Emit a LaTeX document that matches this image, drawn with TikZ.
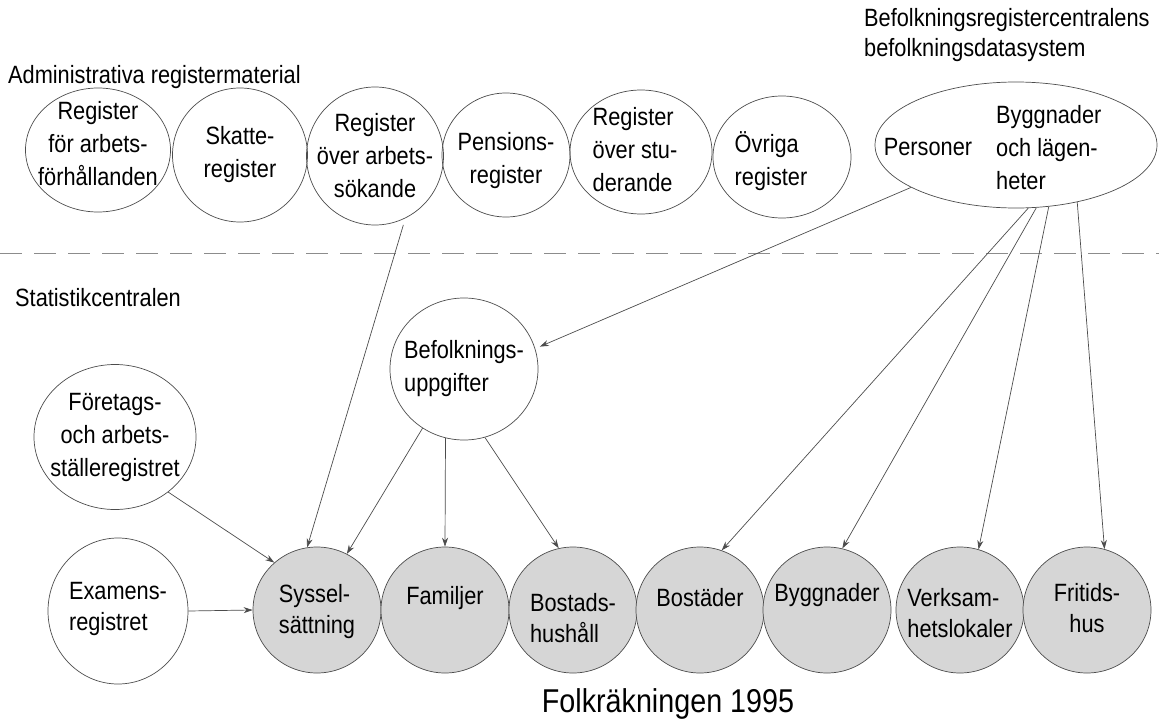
\documentclass[tikz,border=0pt]{standalone}
\usepackage{fontspec}
\setmainfont{Liberation Sans}[FakeStretch=0.87]
\usetikzlibrary{shapes.geometric,arrows.meta}

\tikzset{
  reg/.style={draw=black!70, line width=.7pt, ellipse, inner sep=0pt},
  fk/.style={reg, fill=black!16, minimum width=128pt, minimum height=126pt},
  txt/.style={inner sep=0pt, align=center, font=\fontsize{25}{33}\selectfont},
  ftxt/.style={txt, font=\fontsize{25}{31}\selectfont},
  rubrik/.style={anchor=west, inner sep=0pt, font=\fontsize{25}{30}\selectfont},
  flow/.style={draw=black!70, line width=.7pt, -{Stealth[length=9pt,width=6pt]}}
}

\begin{document}
\begin{tikzpicture}[x=1pt,y=-1pt]
  \useasboundingbox (0,0) rectangle (1159,720);
  % heading
  \node[rubrik] (adm) at (8,77) {Administrativa registermaterial};
  \node[rubrik] (brc) at (864,20) {Befolkningsregistercentralens};
  \node[rubrik] (bds) at (864,50) {befolkningsdatasystem};
  \node[rubrik] (stc) at (15,298) {Statistikcentralen};
  \node[inner sep=0pt, font=\fontsize{33}{38}\selectfont] (fr95) at (668,704) {Folkräkningen 1995};
  % separator
  \draw[black!45, line width=.8pt, dash pattern=on 22pt off 12pt] (0,253) -- (1159,253);
  % administrative registers
  \node[reg, minimum width=145pt, minimum height=124pt, label={[txt,yshift=6pt]center:{Register\\för arbets-\\förhållanden}}] (arb) at (98,150) {};
  \node[reg, minimum width=135pt, minimum height=134pt, label={[txt]center:{Skatte-\\register}}] (ska) at (240,155) {};
  \node[reg, minimum width=137pt, minimum height=138pt, label={[txt]center:{Register\\över arbets-\\sökande}}] (sok) at (375,156) {};
  \node[reg, minimum width=128pt, minimum height=124pt, label={[txt,yshift=-6pt]center:{Pensions-\\register}}] (pen) at (506,155) {};
  \node[reg, minimum width=142pt, minimum height=124pt, label={[txt,align=left,xshift=-6pt,yshift=2pt]center:{Register\\ över stu-\\derande}}] (stu) at (641,152) {};
  \node[reg, minimum width=138pt, minimum height=122pt, label={[txt,align=left,xshift=-11pt,yshift=-4pt]center:{Övriga\\register}}] (ovr) at (782,157) {};
  % population data system
  \node[reg, minimum width=282pt, minimum height=126pt] (bdb) at (1016,145) {};
  \node[txt] (per) at (928,147) {Personer};
  \node[txt, align=left, anchor=west] (byl) at (996,148) {Byggnader\\och lägen-\\heter};
  % statistics centre
  \node[reg, minimum width=148pt, minimum height=142pt, label={[txt,align=left]center:{Befolknings-\\uppgifter}}] (bef) at (464,369) {};
  \node[reg, minimum width=162pt, minimum height=145pt, label={[txt]center:{Företags-\\och arbets-\\ställeregistret}}] (ftg) at (115,437) {};
  \node[reg, minimum width=140pt, minimum height=146pt, label={[ftxt,align=left,yshift=2pt]center:{Examens-\\registret}}] (exa) at (118,611) {};
  % census
  \node[fk, label={[ftxt,align=left,yshift=-2pt]center:{Syssel-\\sättning}}] (sys) at (317,610) {};
  \node[fk, label={[ftxt,yshift=12pt]center:Familjer}] (fam) at (445,610) {};
  \node[fk, label={[ftxt,align=left,yshift=-8pt]center:{Bostads-\\hushåll}}] (hus) at (573,610) {};
  \node[fk, label={[ftxt,yshift=12pt]center:Bostäder}] (bos) at (700,610) {};
  \node[fk, label={[ftxt,yshift=15pt]center:Byggnader}] (byg) at (827,610) {};
  \node[fk, label={[ftxt,align=left,yshift=-3pt]center:{Verksam-\\hetslokaler}}] (ver) at (960,610) {};
  \node[fk, label={[ftxt,yshift=2pt]center:{Fritids-\\hus}}] (fri) at (1087,610) {};
  % arrow
  \draw[flow, shorten <=7pt] (sok.-64) -- (sys.99);
  \draw[flow, shorten >=5pt] (bdb.-158) -- (bef.16);
  \draw[flow] (bef.-125) -- (sys.62);
  \draw[flow] (bef.-105.5) -- (fam.north);
  \draw[flow] (bef.-73) -- (hus.103);
  \draw[flow] (ftg.-46) -- (sys.132);
  \draw[flow] (exa.east) -- (sys.west);
  \draw[flow] (bdb.-79) -- (bos.70);
  \draw[flow] (bdb.-72) -- (byg.76);
  \draw[flow] (bdb.-62) -- (ver.73);
  \draw[flow] (bdb.-43.5) -- (fri.74);
\end{tikzpicture}
\end{document}
